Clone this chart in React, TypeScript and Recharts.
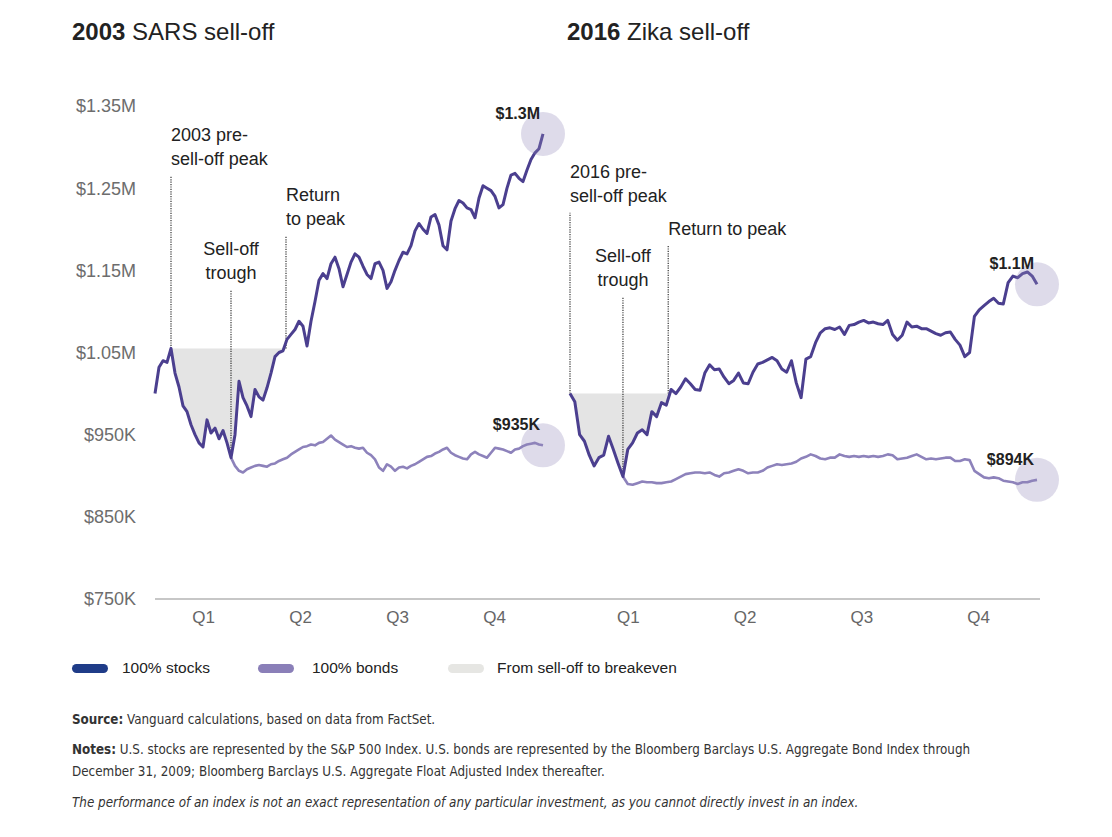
import { Area, ComposedChart, Line, ReferenceDot, ReferenceLine, XAxis, YAxis } from 'recharts';

const FONT = '"Liberation Sans", Arial, Helvetica, sans-serif';
const NARROW = '"Liberation Sans Narrow", "DejaVu Sans Condensed", "Liberation Sans", sans-serif';

const STOCK_COLOR = '#4b3f8f';
const BOND_COLOR = '#8d82bb';
const SHADE_COLOR = '#e4e4e4';

const QUARTERS = ['Q1', 'Q2', 'Q3', 'Q4'];
const Y_TICKS = [750, 850, 950, 1050, 1150, 1250, 1350];

// Portfolio value in $K, sampled evenly through the calendar year (2003)
const SARS_STOCKS = [
    1000, 1032, 1040, 1038, 1055, 1025, 1008, 985, 978, 962,
    950, 940, 935, 968, 952, 958, 945, 955, 940, 922,
    950, 1015, 995, 985, 972, 1005, 996, 992, 1007, 1025,
    1045, 1050, 1052, 1066, 1072, 1078, 1088, 1082, 1058, 1088,
    1112, 1138, 1146, 1140, 1158, 1166, 1152, 1130, 1145, 1160,
    1170, 1166, 1155, 1145, 1140, 1158, 1160, 1150, 1128, 1136,
    1150, 1162, 1172, 1170, 1180, 1198, 1207, 1200, 1195, 1215,
    1218, 1205, 1180, 1175, 1210, 1225, 1235, 1232, 1226, 1224,
    1214, 1238, 1253, 1250, 1247, 1240, 1226, 1230, 1250, 1266,
    1268, 1262, 1258, 1272, 1285, 1293, 1298, 1316,
];
// bonds start at the sell-off trough
const SARS_BONDS = [
    922, 912, 906, 904, 908, 910, 912, 913, 912, 911,
    914, 915, 918, 920, 922, 926, 929, 932, 935, 936,
    938, 937, 940, 941, 945, 949, 944, 941, 938, 935,
    936, 934, 933, 934, 928, 925, 920, 910, 906, 914,
    911, 906, 910, 911, 909, 912, 914, 917, 920, 923,
    924, 927, 929, 932, 934, 928, 925, 923, 921, 920,
    926, 929, 926, 924, 922, 928, 934, 933, 932, 930,
    928, 932, 933, 936, 938, 939, 940, 938, 937,
];

// 2016
const ZIKA_STOCKS = [
    1000, 990, 950, 942, 925, 912, 922, 925, 948, 932,
    915, 899, 932, 940, 952, 956, 950, 978, 972, 989,
    986, 1005, 1000, 1008, 1018, 1012, 1005, 1004, 1025, 1035,
    1029, 1030, 1020, 1012, 1016, 1025, 1013, 1012, 1026, 1036,
    1038, 1041, 1044, 1040, 1030, 1026, 1040, 1013, 995, 1042,
    1045, 1062, 1074, 1079, 1080, 1078, 1081, 1072, 1083, 1084,
    1087, 1089, 1086, 1087, 1085, 1084, 1089, 1072, 1065, 1071,
    1087, 1081, 1082, 1079, 1079, 1076, 1073, 1071, 1074, 1075,
    1066, 1059, 1045, 1050, 1094, 1102, 1107, 1112, 1116, 1110,
    1109, 1135, 1143, 1141, 1146, 1148, 1143, 1133,
];
const ZIKA_BONDS = [
    899, 890, 889, 891, 893, 892, 892, 891, 891, 892,
    893, 896, 899, 902, 903, 904, 904, 903, 904, 901,
    899, 903, 904, 906, 908, 906, 903, 904, 904, 906,
    910, 912, 914, 913, 914, 915, 917, 921, 923, 926,
    924, 921, 920, 922, 922, 926, 924, 923, 924, 923,
    924, 923, 924, 923, 924, 926, 925, 920, 921, 922,
    924, 926, 923, 920, 921, 920, 921, 922, 922, 918,
    918, 920, 919, 906, 902, 898, 897, 898, 897, 894,
    893, 892, 890, 892, 892, 894, 895,
];

// sample index of: pre-sell-off peak, trough, return to peak
const SARS_EVENTS = [4, 19, 32.75];
const ZIKA_EVENTS = [0, 11, 20.4];
// top of each dotted marker, $K
const SARS_NOTE_TOPS = [1265, 1126, 1192];
const ZIKA_NOTE_TOPS = [1220, 1117, 1180];
const SARS_NOTES = [['2003 pre-', 'sell-off peak'], ['Sell-off', 'trough'], ['Return', 'to peak']];
const ZIKA_NOTES = [['2016 pre-', 'sell-off peak'], ['Sell-off', 'trough'], ['Return to peak']];
const NOTE_ANCHORS = ['start', 'middle', 'start'];
const SARS_END_LABELS = ['$1.3M', '$935K'];
const ZIKA_END_LABELS = ['$1.1M', '$894K'];

const LAST = SARS_STOCKS.length - 1;
const QUARTER_TICKS = QUARTERS.map((_, q) => ((q + 0.5) * LAST) / 4);

const formatMoney = (v: number) => (v >= 1000 ? `$${(v / 1000).toFixed(2)}M` : `$${v}K`);

function buildRows(stocks: number[], bonds: number[], events: number[]) {
    const [peakIdx, troughIdx, returnAt] = events;
    const peak = stocks[peakIdx];
    const shadeEnd = Math.ceil(returnAt);
    return stocks.map((v, i) => ({
        i,
        stocks: v,
        bonds: i >= troughIdx ? bonds[i - troughIdx] : null,
        shade: i >= peakIdx && i <= shadeEnd ? [Math.min(v, peak), peak] : null,
    }));
}

const NoteLabel = ({ cx, cy, lines, anchor }: { cx: number; cy: number; lines: string[]; anchor: string }) => {
    const lh = 24;
    const y0 = cy - 11 - (lines.length - 1) * lh;
    return (
        <text x={cx} y={y0} textAnchor={anchor as any} fontSize={18} fill="#222" fontFamily={FONT}>
            {lines.map((l, k) => (
                <tspan key={k} x={cx} dy={k === 0 ? 0 : lh}>{l}</tspan>
            ))}
        </text>
    );
};

const EndMark = ({ cx, cy, text }: { cx: number; cy: number; text: string }) => (
    <g>
        <circle cx={cx} cy={cy} r={22} fill="#9189bb" fillOpacity={0.3} />
        <text x={cx - 3} y={cy - 15} textAnchor="end" fontSize={16} fontWeight={700} fill="#222" fontFamily={FONT}>
            {text}
        </text>
    </g>
);

interface PanelProps {
    stocks: number[];
    bonds: number[];
    events: number[];
    noteTops: number[];
    notes: string[][];
    endLabels: string[];
    showYAxis: boolean;
    left: number;
    width: number;
    marginRight: number;
    padding: { left: number; right: number };
}

function Panel({ stocks, bonds, events, noteTops, notes, endLabels, showYAxis, left, width, marginRight, padding }: PanelProps) {
    const rows = buildRows(stocks, bonds, events);
    const troughIdx = events[1];
    const peak = stocks[events[0]];
    const bottoms = [peak, stocks[troughIdx], peak];
    const last = stocks.length - 1;

    return (
        <div style={{ position: 'absolute', left, top: 0 }}>
            <ComposedChart width={width} height={640} data={rows} margin={{ top: 106, right: marginRight, bottom: 0, left: 0 }}>
                <XAxis
                    dataKey="i"
                    type="number"
                    domain={[0, last]}
                    ticks={QUARTER_TICKS}
                    tickFormatter={(v: number) => QUARTERS[Math.floor((v / last) * 4)]}
                    padding={padding}
                    height={41}
                    tickLine={false}
                    tickSize={0}
                    tickMargin={12}
                    axisLine={{ stroke: '#8f8f8f', strokeWidth: 1.2 }}
                    tick={{ fill: '#666', fontSize: 17, fontFamily: FONT }}
                    interval={0}
                />
                {showYAxis ? (
                    <YAxis
                        domain={[750, 1350]}
                        ticks={Y_TICKS}
                        tickFormatter={formatMoney}
                        width={155}
                        axisLine={false}
                        tickLine={false}
                        tickSize={0}
                        tickMargin={19}
                        tick={{ fill: '#6d6d6d', fontSize: 18, fontFamily: FONT }}
                        interval={0}
                    />
                ) : (
                    <YAxis hide domain={[750, 1350]} />
                )}
                <Area dataKey="shade" fill={SHADE_COLOR} fillOpacity={1} stroke="none" isAnimationActive={false} activeDot={false} />
                <ReferenceDot
                    x={last}
                    y={stocks[last]}
                    shape={(p: any) => <EndMark cx={p.cx} cy={p.cy} text={endLabels[0]} />}
                />
                <ReferenceDot
                    x={last}
                    y={bonds[bonds.length - 1]}
                    shape={(p: any) => <EndMark cx={p.cx} cy={p.cy} text={endLabels[1]} />}
                />
                {events.map((ev, k) => (
                    <ReferenceLine
                        key={`ev-${k}`}
                        segment={[{ x: ev, y: bottoms[k] }, { x: ev, y: noteTops[k] }]}
                        stroke="#333"
                        strokeWidth={1.2}
                        strokeDasharray="1.2 1.2"
                    />
                ))}
                <Line dataKey="bonds" stroke={BOND_COLOR} strokeWidth={2.6} dot={false} isAnimationActive={false} strokeLinejoin="round" />
                <Line dataKey="stocks" stroke={STOCK_COLOR} strokeWidth={3} dot={false} isAnimationActive={false} strokeLinejoin="round" />
                {events.map((ev, k) => (
                    <ReferenceDot
                        key={`note-${k}`}
                        x={ev}
                        y={noteTops[k]}
                        shape={(p: any) => <NoteLabel cx={p.cx} cy={p.cy} lines={notes[k]} anchor={NOTE_ANCHORS[k]} />}
                    />
                ))}
            </ComposedChart>
        </div>
    );
}

const Title = ({ left, year, text }: { left: number; year: string; text: string }) => (
    <div style={{ position: 'absolute', left, top: 20, fontSize: 24, lineHeight: '23px', color: '#222', fontFamily: FONT, whiteSpace: 'nowrap' }}>
        <b>{year}</b> {text}
    </div>
);

const LegendItem = ({ left, textLeft, color, label }: { left: number; textLeft: number; color: string; label: string }) => (
    <>
        <div style={{ position: 'absolute', left, top: 664, width: 36, height: 9, borderRadius: 5, background: color }} />
        <div style={{ position: 'absolute', left: textLeft, top: 659, fontSize: 15.5, lineHeight: '18px', color: '#222', fontFamily: FONT, whiteSpace: 'nowrap' }}>
            {label}
        </div>
    </>
);

const noteStyle = (top: number, italic = false) => ({
    position: 'absolute' as const,
    left: 72,
    top,
    fontSize: 13.3,
    lineHeight: '22px',
    color: '#333',
    fontFamily: NARROW,
    fontStyle: italic ? 'italic' : 'normal',
    whiteSpace: 'nowrap' as const,
});

export default function App() {
    return (
        <div style={{ position: 'absolute', left: 0, top: 0, width: 1112, height: 837, background: '#fff', fontFamily: FONT, overflow: 'hidden' }}>
            <Title left={72} year="2003" text="SARS sell-off" />
            <Title left={567} year="2016" text="Zika sell-off" />
            <Panel
                stocks={SARS_STOCKS}
                bonds={SARS_BONDS}
                events={SARS_EVENTS}
                noteTops={SARS_NOTE_TOPS}
                notes={SARS_NOTES}
                endLabels={SARS_END_LABELS}
                showYAxis
                left={0}
                width={600}
                marginRight={43}
                padding={{ left: 0, right: 14 }}
            />
            <Panel
                stocks={ZIKA_STOCKS}
                bonds={ZIKA_BONDS}
                events={ZIKA_EVENTS}
                noteTops={ZIKA_NOTE_TOPS}
                notes={ZIKA_NOTES}
                endLabels={ZIKA_END_LABELS}
                showYAxis={false}
                left={557}
                width={543}
                marginRight={60}
                padding={{ left: 13, right: 3 }}
            />
            <LegendItem left={72} textLeft={122} color="#1f3c88" label="100% stocks" />
            <LegendItem left={258} textLeft={312} color="#8a7fb8" label="100% bonds" />
            <LegendItem left={448} textLeft={497} color="#e6e6e3" label="From sell-off to breakeven" />
            <div style={noteStyle(709)}>
                <b>Source:</b> Vanguard calculations, based on data from FactSet.
            </div>
            <div style={noteStyle(739)}>
                <b>Notes:</b> U.S. stocks are represented by the S&amp;P 500 Index. U.S. bonds are represented by the Bloomberg Barclays U.S. Aggregate Bond Index through
                <br />
                December 31, 2009; Bloomberg Barclays U.S. Aggregate Float Adjusted Index thereafter.
            </div>
            <div style={noteStyle(792, true)}>
                The performance of an index is not an exact representation of any particular investment, as you cannot directly invest in an index.
            </div>
        </div>
    );
}
